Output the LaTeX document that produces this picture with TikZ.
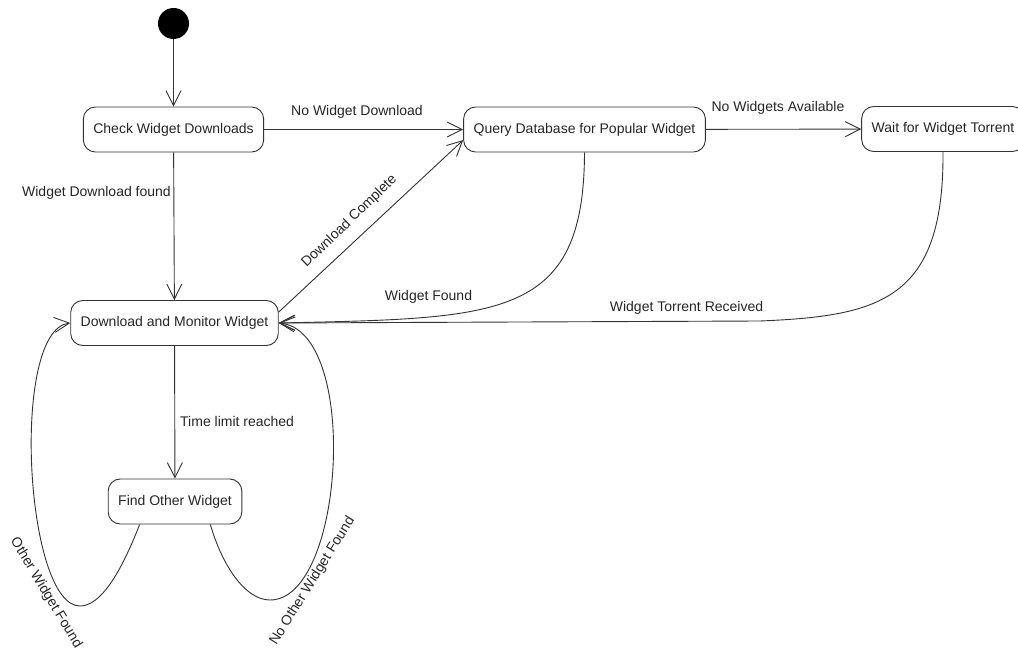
\documentclass[tikz,border=0pt]{standalone}
\usepackage{fontspec}
\setmainfont{Liberation Sans}
\usetikzlibrary{arrows.meta}

\tikzset{
  statebox/.style={draw=black!80, line width=0.9pt, rounded corners=12pt,
    minimum height=45pt, inner xsep=10pt, font=\fontsize{14}{16}\selectfont, text=black!85},
  initdot/.style={circle, fill=black, minimum size=31pt, inner sep=0pt},
  trans/.style={draw=black!80, line width=0.9pt, -{Straight Barb[length=15pt, width=15pt]}},
  lbl/.style={font=\fontsize{14}{16}\selectfont, text=black!85, inner sep=0pt},
}

\begin{document}
\begin{tikzpicture}[x=1pt, y=-1pt]
    \useasboundingbox (0,0) rectangle (1018,650);

    % States
    \node[initdot] (init) at (173.5,23.5) {};
    \node[statebox] (check) at (173.5,129.5) {Check Widget Downloads};
    \node[statebox] (query) at (584.5,129.5) {Query Database for Popular Widget};
    \node[statebox] (wait) at (943,129) {Wait for Widget Torrent};
    \node[statebox] (download) at (174.5,323) {Download and Monitor Widget};
    \node[statebox] (find) at (175,501.5) {Find Other Widget};

    % Bend points of the curved transitions
    \coordinate (bendW) at (760,321);
    \coordinate (lowL) at (80,606);
    \coordinate (lowR) at (270,600);

    % Transitions
    \draw[trans] (init) -- (check);
    \draw[trans] (check) -- (query);
    \draw[trans] (query) -- (wait);
    \draw[trans] (check) -- (download);
    \draw[trans] (download.6) -- (query.185);
    \draw[trans] (query.south) .. controls (584,320) and (500,318) .. (download.east);
    \draw[trans] (wait.south) .. controls (944,300) and (880,316) .. (bendW) -- (download.east);
    \draw[trans] (download) -- (find);

    % Loops back from Find Other Widget
    \draw[trans] (find.213) .. controls (120,575) and (100,606) .. (lowL)
        .. controls (25,606) and (10,330) .. (download.west);
    \draw[trans] (find.-33) .. controls (222,565) and (245,600) .. (lowR)
        .. controls (345,600) and (360,330) .. (download.east);

    % Labels
    \node[lbl] (lNoDl) at (357,112) {No Widget Download};
    \node[lbl] (lNoAvail) at (778,108) {No Widgets Available};
    \node[lbl, anchor=east] (lFoundDl) at (171,193) {Widget Download found};
    \node[lbl, rotate=44] (lComplete) at (349.5,221.5) {Download Complete};
    \node[lbl] (lFound) at (428.5,297) {Widget Found};
    \node[lbl] (lTorrent) at (686.5,308) {Widget Torrent Received};
    \node[lbl, anchor=west] (lTime) at (180,421) {Time limit reached};
    \node[lbl, rotate=-59] (lOther) at (46,593) {Other Widget Found};
    \node[lbl, rotate=58] (lNoOther) at (312.5,581) {No Other Widget Found};
\end{tikzpicture}
\end{document}
